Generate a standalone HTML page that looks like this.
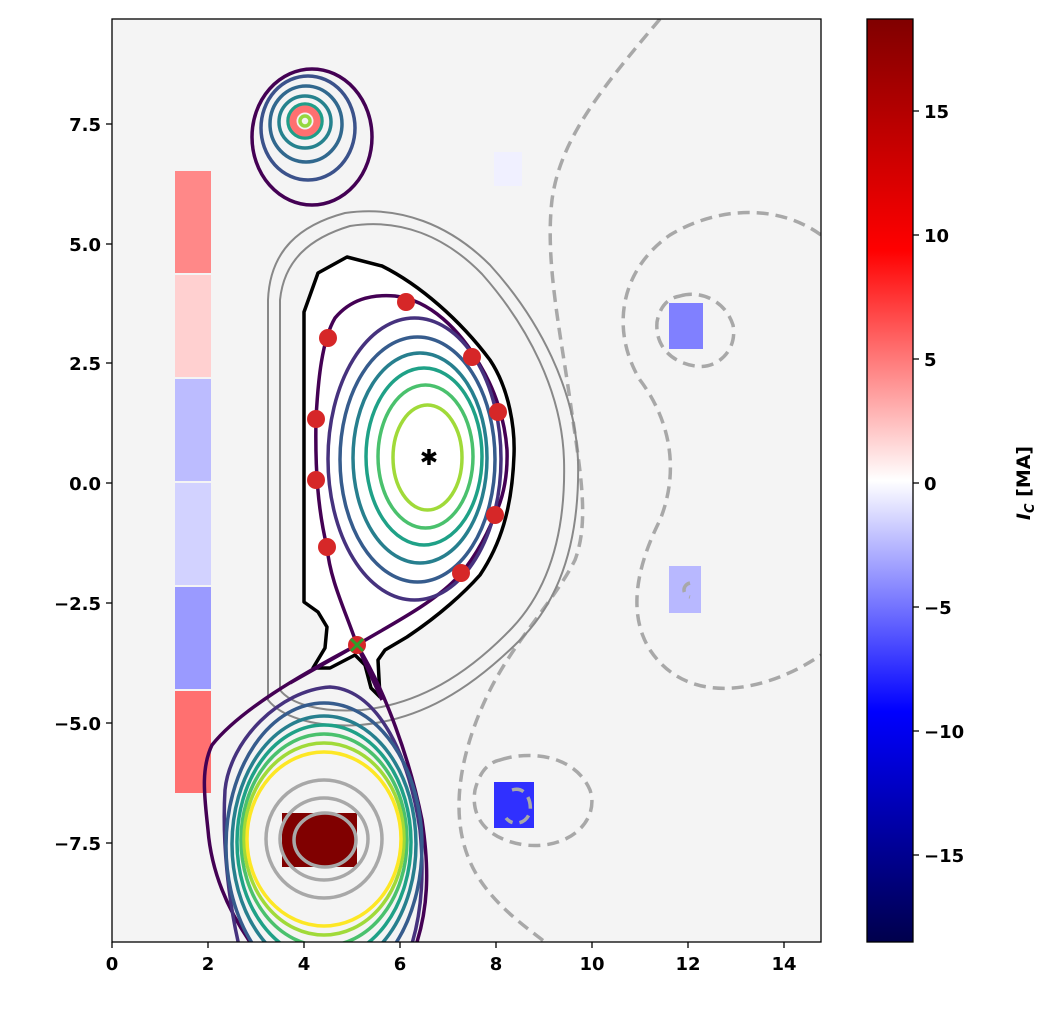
<!DOCTYPE html>
<html><head><meta charset="utf-8"><style>body{margin:0;background:#fff}svg{display:block;font-family:"DejaVu Sans","Liberation Sans",sans-serif;font-weight:bold}</style></head><body>
<svg width="1057" height="1011" viewBox="0 0 1057 1011" xmlns="http://www.w3.org/2000/svg">
<defs>
<linearGradient id="cb" x1="0" y1="1" x2="0" y2="0">
<stop offset="0" stop-color="#00004c"/><stop offset="0.25" stop-color="#0000ff"/><stop offset="0.5" stop-color="#ffffff"/><stop offset="0.75" stop-color="#ff0000"/><stop offset="1" stop-color="#800000"/>
</linearGradient>
<clipPath id="ax"><rect x="112" y="19" width="709" height="923"/></clipPath>
</defs>
<rect x="112" y="19" width="709" height="923" fill="#f4f4f4"/>
<g clip-path="url(#ax)">
<rect x="175" y="171" width="36" height="102" fill="#ff8888"/>
<rect x="175" y="275" width="36" height="102" fill="#ffd0d0"/>
<rect x="175" y="379" width="36" height="102" fill="#bcbcff"/>
<rect x="175" y="483" width="36" height="102" fill="#d2d2ff"/>
<rect x="175" y="587" width="36" height="102" fill="#9a9aff"/>
<rect x="175" y="691" width="36" height="102" fill="#ff7070"/>
<rect x="494" y="152" width="28" height="34" fill="#f0f0ff"/>
<rect x="669" y="303" width="34" height="46" fill="#8080ff"/>
<rect x="669" y="566" width="32" height="47" fill="#b8b8ff"/>
<rect x="494" y="782" width="40" height="46" fill="#3030ff"/>
<g fill="none" stroke="#a8a8a8" stroke-width="3.5" stroke-dasharray="12,7">
<path d="M660,19 C600,90 560,140 552,200 C545,260 560,330 570,400 C580,470 590,520 575,560 C555,600 515,640 490,690 C465,740 440,820 480,880 C500,910 530,930 545,942"/>
<path d="M821,235 C780,205 720,205 670,235 C620,270 610,330 640,380 C670,420 680,470 660,520 C640,560 625,610 650,650 C690,710 770,690 821,655"/>
<path d="M680,296 C700,290 725,300 733,325 C738,352 715,370 695,366 C670,362 655,345 657,322 C660,306 668,298 680,296Z"/>
<path d="M500,760 C530,750 575,755 590,790 C600,820 570,850 525,845 C490,840 470,820 475,790 C480,770 490,762 500,760Z"/>
<path d="M512,790 C525,786 532,800 530,812 C526,825 512,826 506,818"/>
<path d="M690,583 C682,585 682,595 690,597"/>
</g>
<g fill="none" stroke="#888" stroke-width="2">
<path d="M268,700 L268,300 C270,250 300,225 345,213 C400,205 450,225 490,265 C540,320 575,390 578,460 C580,540 560,600 520,640 C470,690 420,720 360,725 C310,728 280,715 268,700Z"/>
<path d="M280,690 L280,300 C284,260 310,238 350,226 C400,218 445,236 482,274 C528,326 562,392 564,460 C566,535 548,590 512,628 C466,676 418,704 362,710 C318,713 290,703 280,690Z"/>
</g>
<path d="M304,602 L304,312 L318,273 L347,257 L382,266 C420,285 460,320 490,360 C510,390 515,430 514,455 C512,510 500,545 480,575 C465,592 440,615 407,637 L385,650 L378,660 L380,697 L371,688 L365,665 L355,655 L330,668 L313,668 L325,648 L327,627 L318,612 Z" fill="#fff" stroke="#000" stroke-width="3.5" stroke-linejoin="round"/>
<g fill="none" stroke-width="3.5">
<path d="M357,645 C345,610 330,580 327,547 C318,510 315,470 316,419 C318,380 322,340 335,318 C350,300 370,294 395,296 C430,300 460,330 480,365 C495,390 505,420 507,450 C508,480 502,500 495,515 C485,540 470,565 455,580 C430,605 390,625 357,645 L290,683 M357,645 L382,700" stroke="#440154"/>
<ellipse cx="414.5" cy="459" rx="86.5" ry="141" stroke="#46327e"/>
<ellipse cx="417.5" cy="459.5" rx="77.5" ry="122.5" stroke="#365c8d"/>
<ellipse cx="420" cy="458" rx="67" ry="105" stroke="#277f8e"/>
<ellipse cx="424" cy="456.5" rx="58" ry="88.5" stroke="#1fa187"/>
<ellipse cx="425.5" cy="456.5" rx="47.5" ry="71.5" stroke="#4ac16d"/>
<ellipse cx="427.5" cy="457.5" rx="34.5" ry="52.5" stroke="#a0da39"/>
</g>
<g fill="none" stroke-width="3.5">
<ellipse cx="312" cy="137" rx="60" ry="68" stroke="#440154"/>
<ellipse cx="308" cy="128" rx="47" ry="52" stroke="#3b528b"/>
<ellipse cx="306" cy="124" rx="36" ry="38" stroke="#31688e"/>
<ellipse cx="305" cy="122" rx="26" ry="26" stroke="#26828e"/>
<ellipse cx="305" cy="121" rx="17" ry="17" stroke="#1f9e89"/>
<ellipse cx="305" cy="121" rx="12" ry="12" stroke="#ff7070" stroke-width="7"/>
<ellipse cx="305" cy="121" rx="5" ry="5" stroke="#95d840"/>
</g>
<rect x="282" y="813" width="75" height="54" fill="#800000"/>
<g fill="none" stroke-width="3.5">
<path d="M357,645 C300,675 240,710 212,745 C200,770 205,800 208,830 C212,880 235,920 250,942 M357,645 C385,690 410,760 422,820 C428,860 430,900 417,942" stroke="#440154"/>
<path d="M225,790 C230,740 280,690 330,687 C380,690 410,760 420,830 C425,880 420,920 410,950 L240,950 C228,900 222,840 225,790Z" stroke="#46327e"/>
<ellipse cx="324" cy="846" rx="98" ry="143" stroke="#365c8d"/>
<ellipse cx="324" cy="844" rx="92" ry="128" stroke="#277f8e"/>
<ellipse cx="324" cy="842" rx="87" ry="117" stroke="#1fa187"/>
<ellipse cx="324" cy="840" rx="83" ry="106" stroke="#4ac16d"/>
<ellipse cx="324" cy="839" rx="80" ry="96" stroke="#a0da39"/>
<ellipse cx="324" cy="839" rx="77" ry="87" stroke="#fde725"/>
<ellipse cx="324" cy="839" rx="58" ry="59" stroke="#a8a8a8"/>
<ellipse cx="324" cy="839" rx="44" ry="41" stroke="#a8a8a8"/>
<ellipse cx="325" cy="840" rx="31" ry="27" stroke="#a8a8a8"/>
</g>
<g fill="#d62728">
<circle cx="406" cy="302" r="9"/><circle cx="328" cy="338" r="9"/><circle cx="472" cy="357" r="9"/>
<circle cx="316" cy="419" r="9"/><circle cx="498" cy="412" r="9"/><circle cx="316" cy="480" r="9"/>
<circle cx="495" cy="515" r="9"/><circle cx="327" cy="547" r="9"/><circle cx="461" cy="573" r="9"/>
<circle cx="357" cy="645" r="9"/>
</g>
<path d="M351,639 L363,651 M363,639 L351,651" stroke="#2ca02c" stroke-width="3"/>
<text x="429" y="465" font-size="22" text-anchor="middle" fill="#000">✱</text>
</g>
<rect x="112" y="19" width="709" height="923" fill="none" stroke="#000" stroke-width="1.3"/>
<g stroke="#000" stroke-width="1.3">
<line x1="112" y1="942" x2="112" y2="948"/><line x1="208" y1="942" x2="208" y2="948"/><line x1="304" y1="942" x2="304" y2="948"/><line x1="400" y1="942" x2="400" y2="948"/><line x1="496" y1="942" x2="496" y2="948"/><line x1="592" y1="942" x2="592" y2="948"/><line x1="688" y1="942" x2="688" y2="948"/><line x1="784" y1="942" x2="784" y2="948"/>
<line x1="106" y1="124" x2="112" y2="124"/><line x1="106" y1="244" x2="112" y2="244"/><line x1="106" y1="363" x2="112" y2="363"/><line x1="106" y1="483" x2="112" y2="483"/><line x1="106" y1="603" x2="112" y2="603"/><line x1="106" y1="723" x2="112" y2="723"/><line x1="106" y1="843" x2="112" y2="843"/>
</g>
<g font-size="18" text-anchor="middle">
<text x="112" y="970">0</text><text x="208" y="970">2</text><text x="304" y="970">4</text><text x="400" y="970">6</text><text x="496" y="970">8</text><text x="592" y="970">10</text><text x="688" y="970">12</text><text x="784" y="970">14</text>
</g>
<g font-size="18" text-anchor="end">
<text x="101" y="131">7.5</text><text x="101" y="251">5.0</text><text x="101" y="370">2.5</text><text x="101" y="490">0.0</text><text x="101" y="610">−2.5</text><text x="101" y="730">−5.0</text><text x="101" y="850">−7.5</text>
</g>
<rect x="867" y="19" width="46" height="923" fill="url(#cb)" stroke="#000" stroke-width="1.3"/>
<g stroke="#000" stroke-width="1.3">
<line x1="913" y1="111" x2="919" y2="111"/><line x1="913" y1="235" x2="919" y2="235"/><line x1="913" y1="359" x2="919" y2="359"/><line x1="913" y1="483" x2="919" y2="483"/><line x1="913" y1="607" x2="919" y2="607"/><line x1="913" y1="731" x2="919" y2="731"/><line x1="913" y1="855" x2="919" y2="855"/>
</g>
<g font-size="18">
<text x="924" y="118">15</text><text x="924" y="242">10</text><text x="924" y="366">5</text><text x="924" y="490">0</text><text x="924" y="614">−5</text><text x="924" y="738">−10</text><text x="924" y="862">−15</text>
</g>
<text transform="translate(1030,483) rotate(-90)" font-size="19" text-anchor="middle"><tspan font-style="italic">I</tspan><tspan font-style="italic" font-size="13" dy="4">C</tspan><tspan dy="-4"> [MA]</tspan></text>
</svg>
</body></html>
